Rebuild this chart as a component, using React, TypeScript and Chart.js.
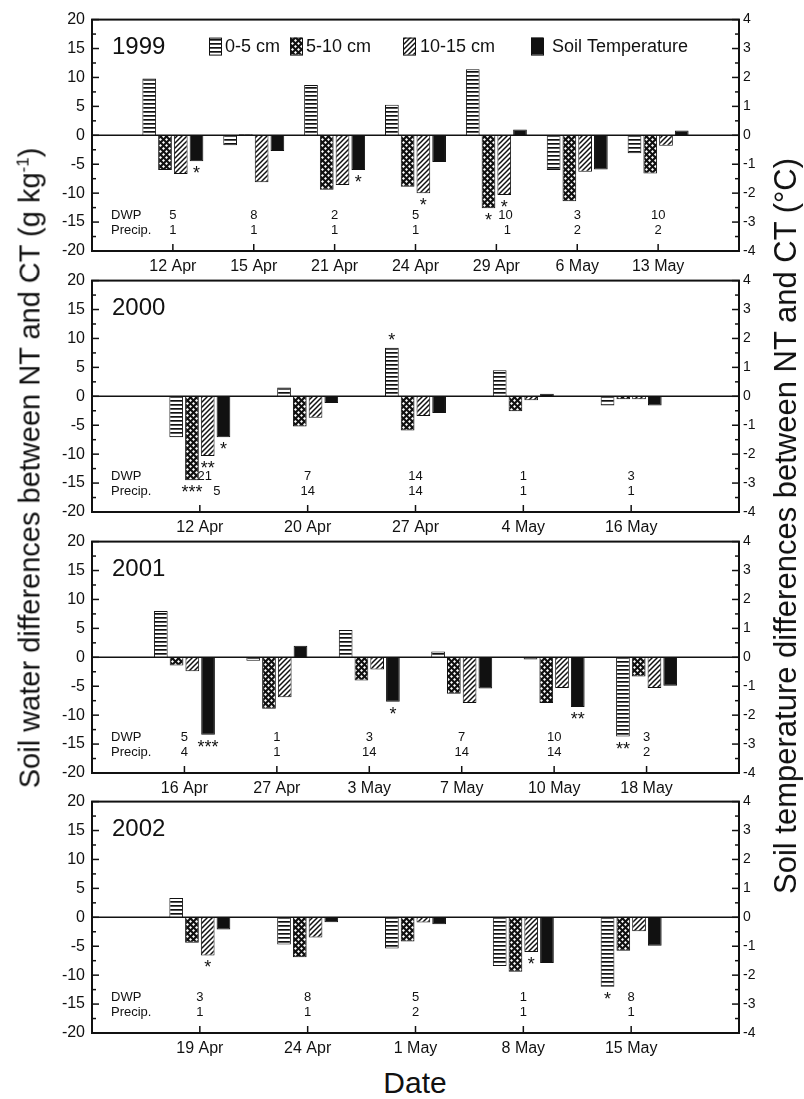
import React, { useEffect, useRef } from 'react';
import { Chart, registerables } from 'chart.js';

Chart.register(...registerables);

const FONT = '"Liberation Sans", Arial, Helvetica, sans-serif';
const INK = '#111111';

// ---------- data ----------
const SERIES = ['0-5 cm', '5-10 cm', '10-15 cm', 'Soil Temperature'];

const dates1999 = ['12 Apr', '15 Apr', '21 Apr', '24 Apr', '29 Apr', '6 May', '13 May'];
const sw05_1999 = [9.8, -1.7, 8.7, 5.3, 11.4, -6.0, -3.1];
const sw510_1999 = [-6.0, 0.2, -9.4, -8.9, -12.6, -11.4, -6.6];
const sw1015_1999 = [-6.7, -8.1, -8.6, -10.0, -10.3, -6.3, -1.8];
const temp1999 = [-0.9, -0.54, -1.2, -0.92, 0.2, -1.18, 0.17];
const dwp1999 = ['5', '8', '2', '5', '10', '3', '10'];
const precip1999 = ['1', '1', '1', '1', '1', '2', '2'];
const stars1999: [number, number, string][] = [[0, 3, '*'], [2, 3, '*'], [3, 2, '*'], [4, 1, '*'], [4, 2, '*']];
const dwpShift1999 = [0, 0, 0, 0, 9, 0, 0];
const precipShift1999 = [0, 0, 0, 0, 11, 0, 0];

const dates2000 = ['12 Apr', '20 Apr', '27 Apr', '4 May', '16 May'];
const sw05_2000 = [-7.1, 1.5, 8.4, 4.5, -1.6];
const sw510_2000 = [-14.5, -5.2, -5.9, -2.6, -0.5];
const sw1015_2000 = [-10.3, -3.7, -3.4, -0.7, -0.5];
const temp2000 = [-1.42, -0.23, -0.58, 0.09, -0.32];
const dwp2000 = ['21', '7', '14', '1', '3'];
const precip2000 = ['5', '14', '14', '1', '1'];
const stars2000: [number, number, string][] = [[0, 1, '***'], [0, 2, '**'], [0, 3, '*'], [2, 0, '*']];
const dwpShift2000 = [5, 0, 0, 0, 0];
const precipShift2000 = [17, 0, 0, 0, 0];

const dates2001 = ['16 Apr', '27 Apr', '3 May', '7 May', '10 May', '18 May'];
const sw05_2001 = [8.0, -0.6, 4.7, 1.0, -0.4, -13.7];
const sw510_2001 = [-1.4, -8.9, -4.0, -6.3, -7.9, -3.3];
const sw1015_2001 = [-2.4, -6.9, -2.1, -7.9, -5.3, -5.3];
const temp2001 = [-2.68, 0.4, -1.54, -1.08, -1.72, -0.98];
const dwp2001 = ['5', '1', '3', '7', '10', '3'];
const precip2001 = ['4', '1', '14', '14', '14', '2'];
const stars2001: [number, number, string][] = [[0, 3, '***'], [2, 3, '*'], [4, 3, '**'], [5, 0, '**']];
const dwpShift2001 = [0, 0, 0, 0, 0, 0];
const precipShift2001 = [0, 0, 0, 0, 0, 0];

const dates2002 = ['19 Apr', '24 Apr', '1 May', '8 May', '15 May'];
const sw05_2002 = [3.35, -4.7, -5.4, -8.4, -12.0];
const sw510_2002 = [-4.4, -6.9, -4.2, -9.4, -5.8];
const sw1015_2002 = [-6.6, -3.5, -0.9, -6.0, -2.4];
const temp2002 = [-0.42, -0.17, -0.24, -1.58, -0.98];
const dwp2002 = ['3', '8', '5', '1', '8'];
const precip2002 = ['1', '1', '2', '1', '1'];
const stars2002: [number, number, string][] = [[0, 2, '*'], [3, 2, '*'], [4, 0, '*']];
const dwpShift2002 = [0, 0, 0, 0, 0];
const precipShift2002 = [0, 0, 0, 0, 0];

const leftTicks = { min: -20, max: 20, step: 5 };
const rightTicks = { min: -4, max: 4, step: 1 };
const DWP_Y = -13.85;
const PRECIP_Y = -16.4;

type PanelData = {
  year: string; dates: string[]; s05: number[]; s510: number[]; s1015: number[]; temp: number[];
  dwp: string[]; precip: string[]; stars: [number, number, string][];
  dwpShift: number[]; precipShift: number[]; legend: boolean;
};

const PANELS: PanelData[] = [
  { year: '1999', dates: dates1999, s05: sw05_1999, s510: sw510_1999, s1015: sw1015_1999, temp: temp1999, dwp: dwp1999, precip: precip1999, stars: stars1999, dwpShift: dwpShift1999, precipShift: precipShift1999, legend: true },
  { year: '2000', dates: dates2000, s05: sw05_2000, s510: sw510_2000, s1015: sw1015_2000, temp: temp2000, dwp: dwp2000, precip: precip2000, stars: stars2000, dwpShift: dwpShift2000, precipShift: precipShift2000, legend: false },
  { year: '2001', dates: dates2001, s05: sw05_2001, s510: sw510_2001, s1015: sw1015_2001, temp: temp2001, dwp: dwp2001, precip: precip2001, stars: stars2001, dwpShift: dwpShift2001, precipShift: precipShift2001, legend: false },
  { year: '2002', dates: dates2002, s05: sw05_2002, s510: sw510_2002, s1015: sw1015_2002, temp: temp2002, dwp: dwp2002, precip: precip2002, stars: stars2002, dwpShift: dwpShift2002, precipShift: precipShift2002, legend: false },
];

// ---------- layout ----------
const PANEL_TOPS = [15, 276, 537, 797];
const PANEL_H = 236;
const CANVAS_W = 804;
const PAD_TOP = 12;
const X_AXIS_H = 30;
const LEFT_W = 92;
const RIGHT_W = 65;

// ---------- patterns ----------
function makePatterns() {
  const mk = (w: number, h: number, draw: (c: CanvasRenderingContext2D) => void) => {
    const c = document.createElement('canvas');
    c.width = w; c.height = h;
    const g = c.getContext('2d')!;
    draw(g);
    return g.createPattern(c, 'repeat')!;
  };
  const horiz = mk(6, 4, (g) => {
    g.fillStyle = '#fff'; g.fillRect(0, 0, 6, 4);
    g.fillStyle = INK; g.fillRect(0, 0, 6, 1.7);
  });
  const cross = mk(6, 6, (g) => {
    g.fillStyle = INK; g.fillRect(0, 0, 6, 6);
    g.fillStyle = '#fff';
    const dia = (cx: number, cy: number, r: number) => {
      g.beginPath(); g.moveTo(cx, cy - r); g.lineTo(cx + r, cy); g.lineTo(cx, cy + r); g.lineTo(cx - r, cy); g.closePath(); g.fill();
    };
    dia(1.5, 1.5, 1.5); dia(4.5, 4.5, 1.5);
  });
  const diag = mk(5, 5, (g) => {
    g.fillStyle = '#fff'; g.fillRect(0, 0, 5, 5);
    g.strokeStyle = INK; g.lineWidth = 1.5;
    g.beginPath();
    g.moveTo(-1, 6); g.lineTo(6, -1);
    g.moveTo(-1, 1); g.lineTo(1, -1);
    g.moveTo(4, 6); g.lineTo(6, 4);
    g.stroke();
  });
  return [horiz, cross, diag, INK as any];
}

function makeDecoPlugin(d: PanelData, fills: any[]) {
  return {
    id: 'deco' + d.year,
    afterDatasetsDraw(chart: any) {
      const { ctx, chartArea: a, scales } = chart;
      const y = scales.y, y2 = scales.y2, x = scales.x;
      const line = (x1: number, y1: number, x2: number, y2p: number) => {
        ctx.beginPath(); ctx.moveTo(x1, y1); ctx.lineTo(x2, y2p); ctx.stroke();
      };
      ctx.save();
      ctx.strokeStyle = INK;
      ctx.fillStyle = INK;
      // zero line
      ctx.lineWidth = 1.5;
      const y0 = y.getPixelForValue(0);
      line(a.left, y0, a.right, y0);
      // frame
      ctx.lineWidth = 2;
      ctx.strokeRect(a.left, a.top, a.right - a.left, a.bottom - a.top);
      // ticks (inward)
      ctx.lineWidth = 1.5;
      for (let v = leftTicks.min; v <= leftTicks.max; v += 2.5) {
        const py = y.getPixelForValue(v);
        line(a.left, py, a.left + (v % 5 === 0 ? 7 : 4), py);
      }
      for (let v = rightTicks.min; v <= rightTicks.max; v += 0.5) {
        const py = y2.getPixelForValue(v);
        line(a.right, py, a.right - (Number.isInteger(v) ? 7 : 4), py);
      }
      for (let i = 1; i <= d.dates.length; i++) {
        const px = x.getPixelForValue(i);
        line(px, a.bottom, px, a.bottom - 7);
      }
      // year
      ctx.textBaseline = 'middle';
      ctx.textAlign = 'left';
      ctx.font = `24px ${FONT}`;
      ctx.fillText(d.year, a.left + 20, a.top + 28);
      // legend
      if (d.legend) {
        const boxX = [209, 290, 403, 531];
        const txtX = [225, 306, 420, 552];
        ctx.font = `18px ${FONT}`;
        for (let s = 0; s < 4; s++) {
          ctx.fillStyle = fills[s];
          ctx.fillRect(boxX[s], a.top + 18, 12, 17);
          ctx.lineWidth = 1;
          ctx.strokeRect(boxX[s] + 0.5, a.top + 18.5, 12, 17);
          ctx.fillStyle = INK;
          ctx.fillText(SERIES[s], txtX[s], a.top + 27);
        }
      }
      // DWP / Precip rows
      ctx.font = `13px ${FONT}`;
      ctx.textAlign = 'left';
      ctx.fillText('DWP', a.left + 19, y.getPixelForValue(DWP_Y));
      ctx.fillText('Precip.', a.left + 19, y.getPixelForValue(PRECIP_Y));
      ctx.textAlign = 'center';
      for (let i = 0; i < d.dates.length; i++) {
        const px = x.getPixelForValue(i + 1);
        ctx.fillText(d.dwp[i], px + d.dwpShift[i], y.getPixelForValue(DWP_Y));
        ctx.fillText(d.precip[i], px + d.precipShift[i], y.getPixelForValue(PRECIP_Y));
      }
      // significance stars
      ctx.font = `18px ${FONT}`;
      ctx.textBaseline = 'alphabetic';
      for (const [di, si, txt] of d.stars) {
        const el = chart.getDatasetMeta(si).data[di + 1];
        const vals = [d.s05, d.s510, d.s1015, d.temp][si];
        const v = vals[di];
        const py = el.y;
        const by = v < 0 ? py + 18 : py - 2;
        ctx.fillText(txt, el.x, by);
      }
      ctx.restore();
    },
  };
}

function Panel({ d, top }: { d: PanelData; top: number }) {
  const ref = useRef<HTMLCanvasElement>(null);
  useEffect(() => {
    const fills = makePatterns();
    const n = d.dates.length;
    const labels = ['', ...d.dates, ''];
    const pad = (arr: number[]) => [null, ...arr, null];
    const catPct = (63 * (n + 1)) / (CANVAS_W - LEFT_W - RIGHT_W);
    const series = [d.s05, d.s510, d.s1015, d.temp];
    const chart = new Chart(ref.current!, {
      type: 'bar',
      data: {
        labels,
        datasets: series.map((vals, s) => ({
          label: SERIES[s],
          data: pad(vals),
          backgroundColor: fills[s],
          borderColor: INK,
          borderWidth: 1,
          yAxisID: s === 3 ? 'y2' : 'y',
          categoryPercentage: catPct,
          barPercentage: 0.87,
        })),
      } as any,
      options: {
        responsive: false,
        animation: false,
        devicePixelRatio: 1,
        layout: { padding: { top: PAD_TOP, left: 0, right: 0, bottom: 0 } },
        plugins: { legend: { display: false }, tooltip: { enabled: false } },
        scales: {
          x: {
            type: 'category',
            offset: false,
            grid: { display: false, drawTicks: false },
            border: { display: false },
            ticks: { autoSkip: false, maxRotation: 0, font: { size: 16, family: FONT }, color: INK, padding: 6 },
            afterFit: (s: any) => { s.height = X_AXIS_H; },
          },
          y: {
            position: 'left',
            min: leftTicks.min, max: leftTicks.max,
            grid: { display: false, drawTicks: false },
            border: { display: false },
            ticks: { stepSize: leftTicks.step, font: { size: 16, family: FONT }, color: INK, padding: 7 },
            afterFit: (s: any) => { s.width = LEFT_W; },
          },
          y2: {
            position: 'right',
            min: rightTicks.min, max: rightTicks.max,
            grid: { display: false, drawTicks: false },
            border: { display: false },
            ticks: { stepSize: rightTicks.step, font: { size: 14, family: FONT }, color: INK, padding: 4 },
            afterFit: (s: any) => { s.width = RIGHT_W; },
          },
        },
      } as any,
      plugins: [makeDecoPlugin(d, fills)],
    });
    return () => chart.destroy();
  }, [d]);
  return (
    <canvas
      ref={ref}
      width={CANVAS_W}
      height={PANEL_H + PAD_TOP + X_AXIS_H}
      style={{ position: 'absolute', left: 0, top: top - PAD_TOP, width: CANVAS_W, height: PANEL_H + PAD_TOP + X_AXIS_H }}
    />
  );
}

export default function App() {
  Chart.defaults.font.family = FONT;
  return (
    <div style={{ position: 'absolute', left: 0, top: 0, width: 804, height: 1099, background: '#fff', fontFamily: FONT, color: INK, overflow: 'hidden' }}>
      {PANELS.map((d, i) => (
        <Panel key={d.year} d={d} top={PANEL_TOPS[i]} />
      ))}
      <div style={{ position: 'absolute', left: 30, top: 468, transform: 'translate(-50%, -50%) rotate(-90deg)', whiteSpace: 'nowrap', fontSize: 29 }}>
        Soil water differences between NT and CT (g kg<sup style={{ fontSize: 17 }}>-1</sup>)
      </div>
      <div style={{ position: 'absolute', left: 786, top: 526, transform: 'translate(-50%, -50%) rotate(-90deg)', whiteSpace: 'nowrap', fontSize: 31 }}>
        Soil temperature differences between NT and CT (°C)
      </div>
      <div style={{ position: 'absolute', left: 415, top: 1083, transform: 'translate(-50%, -50%)', whiteSpace: 'nowrap', fontSize: 30 }}>
        Date
      </div>
    </div>
  );
}
